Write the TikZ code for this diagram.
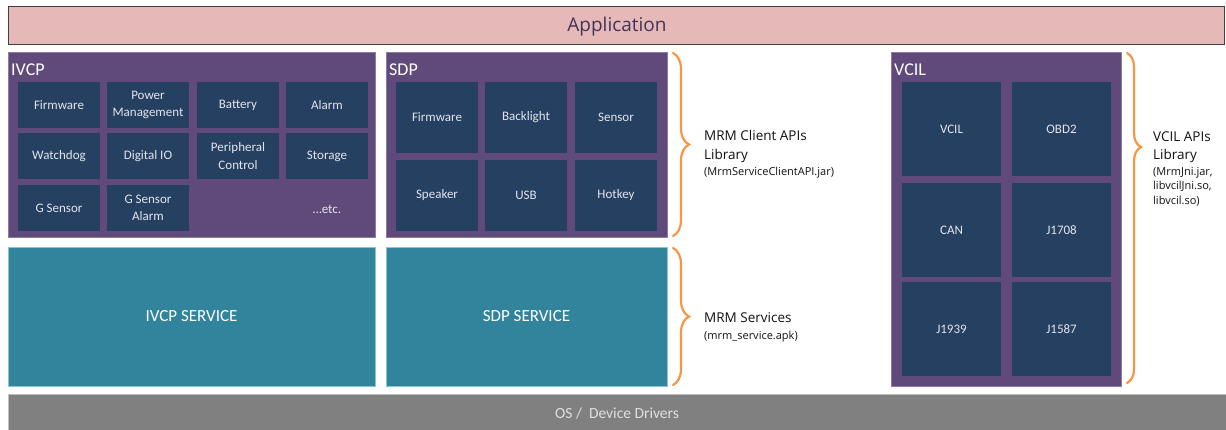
\documentclass[tikz,border=0pt]{standalone}
\usepackage{fontspec}
\setmainfont{Carlito}
\newfontfamily\notefont{Open Sans}
\usetikzlibrary{calc,decorations.pathreplacing}

\definecolor{appfill}{HTML}{E6B9B8}
\definecolor{appline}{HTML}{404040}
\definecolor{apptext}{HTML}{403458}
\definecolor{grpfill}{HTML}{604A7B}
\definecolor{grpline}{HTML}{8C7BA3}
\definecolor{cellfill}{HTML}{254061}
\definecolor{cellfg}{HTML}{E4E4EC}
\definecolor{svcfill}{HTML}{31849B}
\definecolor{svcline}{HTML}{8CC4D4}
\definecolor{osfill}{HTML}{808080}
\definecolor{osline}{HTML}{C0C0C0}
\definecolor{ostext}{HTML}{E0E0E0}
\definecolor{bracecol}{HTML}{F79646}
\definecolor{notetext}{HTML}{111111}

\newcommand{\fs}[2]{\fontsize{#1}{#2}\selectfont}

\tikzset{
  blk/.style={anchor=north west, inner sep=0pt, outer sep=0pt},
  group/.style={blk, fill=grpfill, draw=grpline, line width=0.6pt},
  cell/.style={blk, fill=cellfill, text=cellfg, align=center, font=\fs{13}{17.5}},
  service/.style={blk, fill=svcfill, draw=svcline, line width=0.6pt},
  svctext/.style={text=white, font=\fs{17}{20}},
  grplabel/.style={anchor=base west, inner sep=0pt, text=white, font=\fs{18}{20}},
  note/.style={anchor=base west, inner sep=0pt, text=notetext, font=\notefont\fs{13.5}{16}},
  subnote/.style={anchor=base west, inner sep=0pt, text=notetext, font=\notefont\fs{11}{13}},
  orangebrace/.style={draw=bracecol, line width=2.2pt, line cap=round,
    decorate, decoration={brace, amplitude=#1}},
}

\begin{document}
\begin{tikzpicture}[x=1pt, y=-1pt]
\useasboundingbox (0,0) rectangle (1226,430);

% top and bottom layers
\node[blk, fill=appfill, draw=appline, line width=0.8pt,
      minimum width=1216, minimum height=38] (app) at (8,6) {};
\node[text=apptext, font=\notefont\fs{19}{22}] (apptxt) at (617,26.5) {Application};

\node[blk, fill=osfill, draw=osline, line width=0.6pt,
      minimum width=1220, minimum height=37] (os) at (8,394) {};
\node[text=ostext, font=\fs{15.5}{18}] (ostxt) at (617,413) {OS /\ \ Device Drivers};

% IVCP group
\node[group, minimum width=367, minimum height=185] (ivcp) at (8,52) {};
\node[grplabel] (ivcplbl) at (11,76) {IVCP};
\foreach \name/\txt/\x/\y in {
    f1/Firmware/18/82, f2/{Power\\Management}/107/82, f3/Battery/197/82, f4/Alarm/286/82,
    f5/Watchdog/18/133, f6/Digital IO/107/133, f7/{Peripheral\\Control}/197/133, f8/Storage/286/133,
    f9/G Sensor/18/185, f10/{G Sensor\\Alarm}/107/185}
  \node[cell, minimum width=82, minimum height=46] (ivcp\name) at (\x,\y) {\txt};
\node[text=cellfg, font=\fs{13}{17}] (ivcpetc) at (327,209) {\dots etc.};

% SDP group
\node[group, minimum width=281, minimum height=185] (sdp) at (386,52) {};
\node[grplabel] (sdplbl) at (389,76) {SDP};
\foreach \name/\txt/\x/\y in {
    s1/Firmware/396/82, s2/Backlight/485/82, s3/Sensor/575/82,
    s4/Speaker/396/160, s5/USB/485/160, s6/Hotkey/575/160}
  \node[cell, minimum width=82, minimum height=71] (sdp\name) at (\x,\y) {\txt};

% service blocks
\node[service, minimum width=367, minimum height=139] (ivcpsvc) at (8,247) {};
\node[svctext] (ivcpsvctxt) at (ivcpsvc.center) {IVCP SERVICE};
\node[service, minimum width=281, minimum height=139] (sdpsvc) at (386,247) {};
\node[svctext] (sdpsvctxt) at (sdpsvc.center) {SDP SERVICE};

% VCIL group
\node[group, minimum width=230, minimum height=334] (vcil) at (891,52) {};
\node[grplabel] (vcillbl) at (894,76) {VCIL};
\foreach \name/\txt/\x/\y in {
    v1/VCIL/902/82, v2/OBD2/1012/82,
    v3/CAN/902/183, v4/J1708/1012/183,
    v5/J1939/902/282, v6/J1587/1012/282}
  \node[cell, minimum width=99, minimum height=94] (vcil\name) at (\x,\y) {\txt};

% braces and notes
\coordinate (b1t) at ($(sdp.north east)+(6,1)$);
\coordinate (b1b) at ($(sdp.south east)+(6,-1)$);
\draw[orangebrace=16] (b1t) -- (b1b);
\node[note] (mrmc1) at (704,140.7) {MRM Client APIs};
\node[note] (mrmc2) at (704,159.3) {Library};
\node[subnote] (mrmc3) at (704,175.5) {(MrmServiceClientAPI.jar)};

\coordinate (b2t) at ($(sdpsvc.north east)+(6,1)$);
\coordinate (b2b) at ($(sdpsvc.south east)+(6,-1)$);
\draw[orangebrace=16] (b2t) -- (b2b);
\node[note] (mrms1) at (704,322.5) {MRM Services};
\node[subnote] (mrms2) at (704,339.5) {(mrm\_service.apk)};

\coordinate (b3t) at ($(vcil.north east)+(6,1)$);
\coordinate (b3b) at ($(vcil.south east)+(6,-3)$);
\draw[draw=bracecol, line width=2.2pt, line cap=round, decorate,
      decoration={brace, amplitude=14, aspect=0.285}] (b3t) -- (b3b);
\node[note] (vapi1) at (1153,141.5) {VCIL APIs};
\node[note] (vapi2) at (1153,160) {Library};
\node[subnote] (vapi3) at (1153,175.5) {(MrmJni.jar,};
\node[subnote] (vapi4) at (1153,190) {libvcilJni.so,};
\node[subnote] (vapi5) at (1153,204.5) {libvcil.so)};
\end{tikzpicture}
\end{document}
